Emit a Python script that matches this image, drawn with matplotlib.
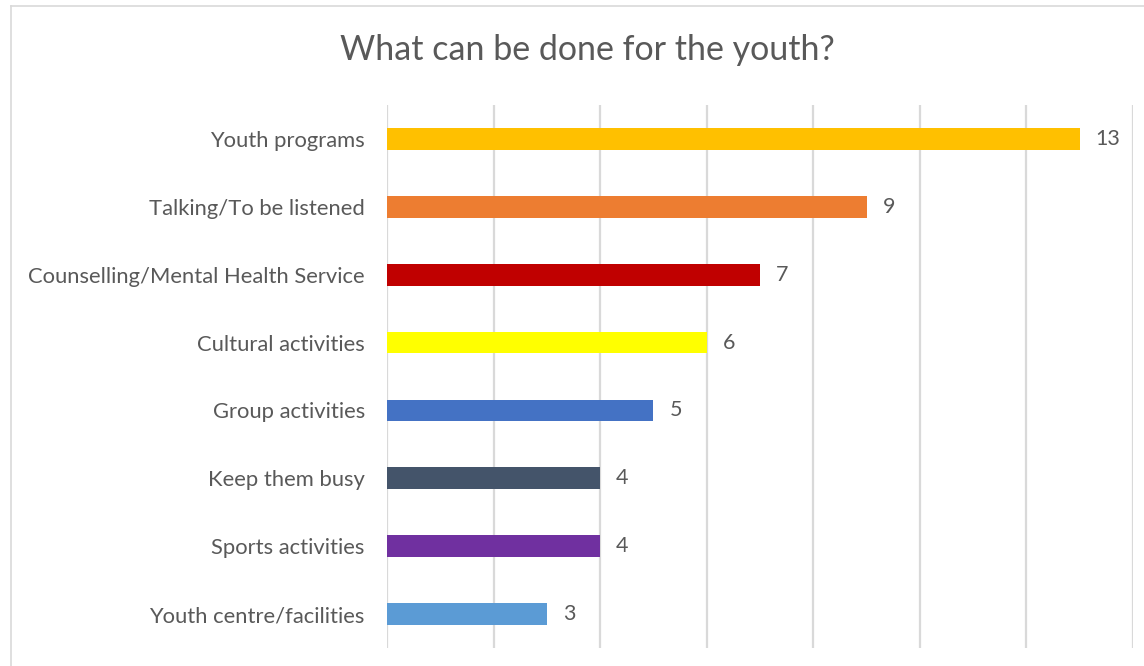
import matplotlib.pyplot as plt
from matplotlib.lines import Line2D

categories = ["Youth programs", "Talking/To be listened",
              "Counselling/Mental Health Service", "Cultural activities",
              "Group activities", "Keep them busy", "Sports activities",
              "Youth centre/facilities"]
counts = [13, 9, 7, 6, 5, 4, 4, 3]
colors = ["#FFC000", "#ED7D31", "#C00000", "#FFFF00",
          "#4472C4", "#44546A", "#7030A0", "#5B9BD5"]

plt.rcParams['font.family'] = ['Lato', 'DejaVu Sans']
text_gray = "#595959"

fig = plt.figure(figsize=(11.44, 6.66), dpi=100)
W, H = 1144, 666
ax = fig.add_axes([387 / W, 1 - 648 / H, (1133 - 387) / W, (648 - 105) / H])

ypos = list(range(len(categories)))
ax.barh(ypos, counts, height=0.32, color=colors, zorder=3)
for y, v in zip(ypos, counts):
    ax.text(v + 0.3, y, str(v), va='center', ha='left',
            fontsize=15.5, color=text_gray)

ax.set_xlim(0, 14)
ax.set_ylim(len(categories) - 0.5, -0.5)
ax.set_xticks(range(0, 15, 2))
ax.set_xticklabels([])
ax.set_yticks(ypos)
ax.set_yticklabels(categories, fontsize=15.8, color=text_gray)
ax.tick_params(length=0, pad=16)
ax.grid(axis='x', color='#D9D9D9', linewidth=1.6, zorder=0)
for s in ax.spines.values():
    s.set_visible(False)

fig.text(587 / W, 1 - 50 / H, "What can be done for the youth?",
         ha='center', va='center', fontsize=24.5, color=text_gray)

# chart area frame (top and left edges)
fig.add_artist(Line2D([11 / W, 1], [1 - 6 / H, 1 - 6 / H],
                      color='#D9D9D9', linewidth=1.2))
fig.add_artist(Line2D([11 / W, 11 / W], [0, 1 - 6 / H],
                      color='#D9D9D9', linewidth=1.2))

fig.savefig("out.png", dpi=100)
